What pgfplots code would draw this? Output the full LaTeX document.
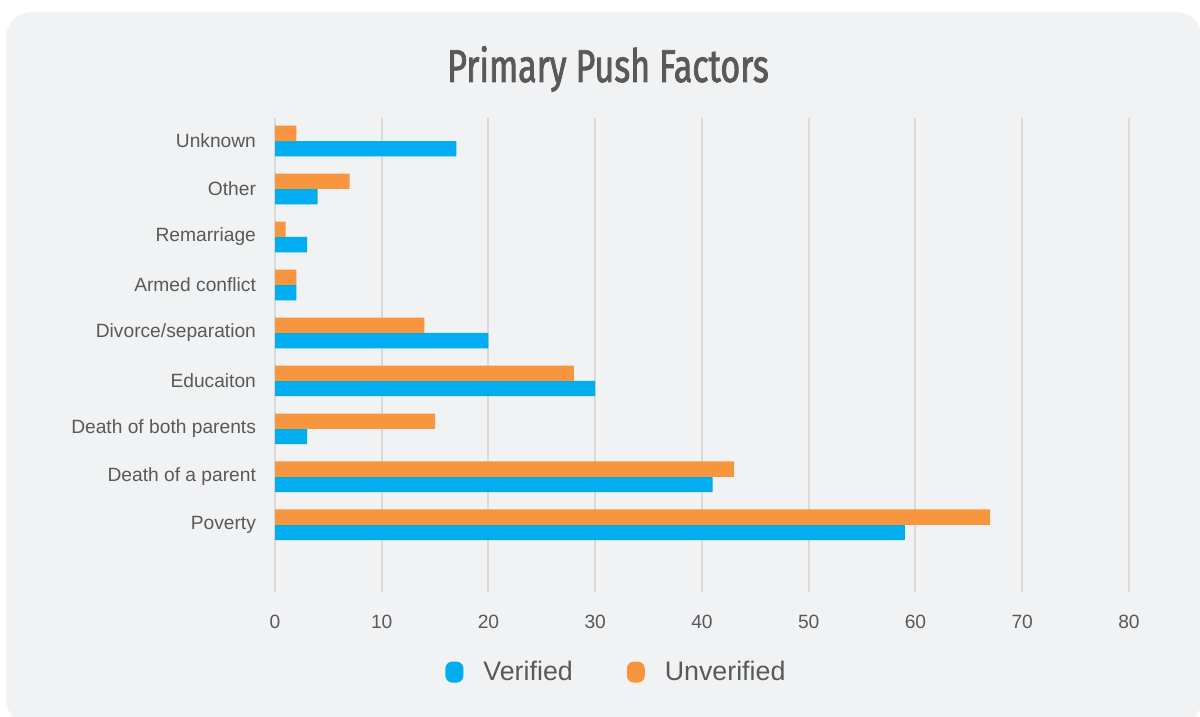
\documentclass[border=0pt]{standalone}
\usepackage{pgfplots}
\pgfplotsset{compat=1.18}
\usepackage{fontspec}
\setmainfont{Liberation Sans}
\newfontfamily\titlefont[FakeStretch=0.74, FakeBold=1.7]{Fira Sans}

\definecolor{bg}{HTML}{F1F2F4}
\definecolor{gridc}{HTML}{D9D9D9}
\definecolor{txt}{HTML}{595959}
\definecolor{verif}{HTML}{00AEEF}
\definecolor{unverif}{HTML}{F7963F}

\begin{document}
\begin{tikzpicture}
% 1 px = 0.5 pt, image 1200 x 717
\fill[white] (0pt,0pt) rectangle (600pt,358.5pt);
\fill[bg, rounded corners=13pt] (3pt,-4pt) rectangle (601pt,352.5pt);
\node[anchor=base, text=txt, font=\titlefont\fontsize{23}{26}\selectfont]
  at (304pt,317.5pt) {Primary Push Factors};

\begin{axis}[
  at={(137.5pt,62.5pt)}, anchor=south west,
  scale only axis, width=427pt, height=237pt,
  xbar, bar width=0.32,
  xmin=0, xmax=80, ymin=-1.4, ymax=8.48,
  xtick={0,10,...,80},
  ytick={0,...,8},
  yticklabels={Poverty, Death of a parent, Death of both parents, Educaiton,
    Divorce/separation~, Armed conflict, Remarriage, Other, Unknown~},
  axis line style={draw=none},
  major tick length=0pt,
  xmajorgrids, grid style={gridc, line width=1pt},
  tick label style={text=txt, font=\fontsize{9.6}{11}\selectfont},
  yticklabel style={xshift=-6pt},
  xticklabel style={yshift=-8pt},
  /pgf/number format/assume math mode=true,
  legend columns=2,
  legend style={at={(axis description cs:0.401,-0.169)}, anchor=center,
    draw=none, fill=none, text=txt, font=\fontsize{13.4}{15}\selectfont,
    /tikz/every odd column/.append style={column sep=8pt},
    /tikz/every even column/.append style={column sep=25pt}},
]
\addplot[fill=verif, draw=none, bar shift=-0.16,
  legend image code/.code={\fill[verif, rounded corners=3.5pt] (0pt,-5.25pt) rectangle (9pt,5.25pt);}]
  coordinates {(59,0) (41,1) (3,2) (30,3) (20,4) (2,5) (3,6) (4,7) (17,8)};
\addlegendentry{Verified}
\addplot[fill=unverif, draw=none, bar shift=0.16,
  legend image code/.code={\fill[unverif, rounded corners=3.5pt] (0pt,-5.25pt) rectangle (9pt,5.25pt);}]
  coordinates {(67,0) (43,1) (15,2) (28,3) (14,4) (2,5) (1,6) (7,7) (2,8)};
\addlegendentry{Unverified}
\end{axis}
\pgfresetboundingbox
\useasboundingbox (0pt,0pt) rectangle (600pt,358.5pt);
\end{tikzpicture}
\end{document}
